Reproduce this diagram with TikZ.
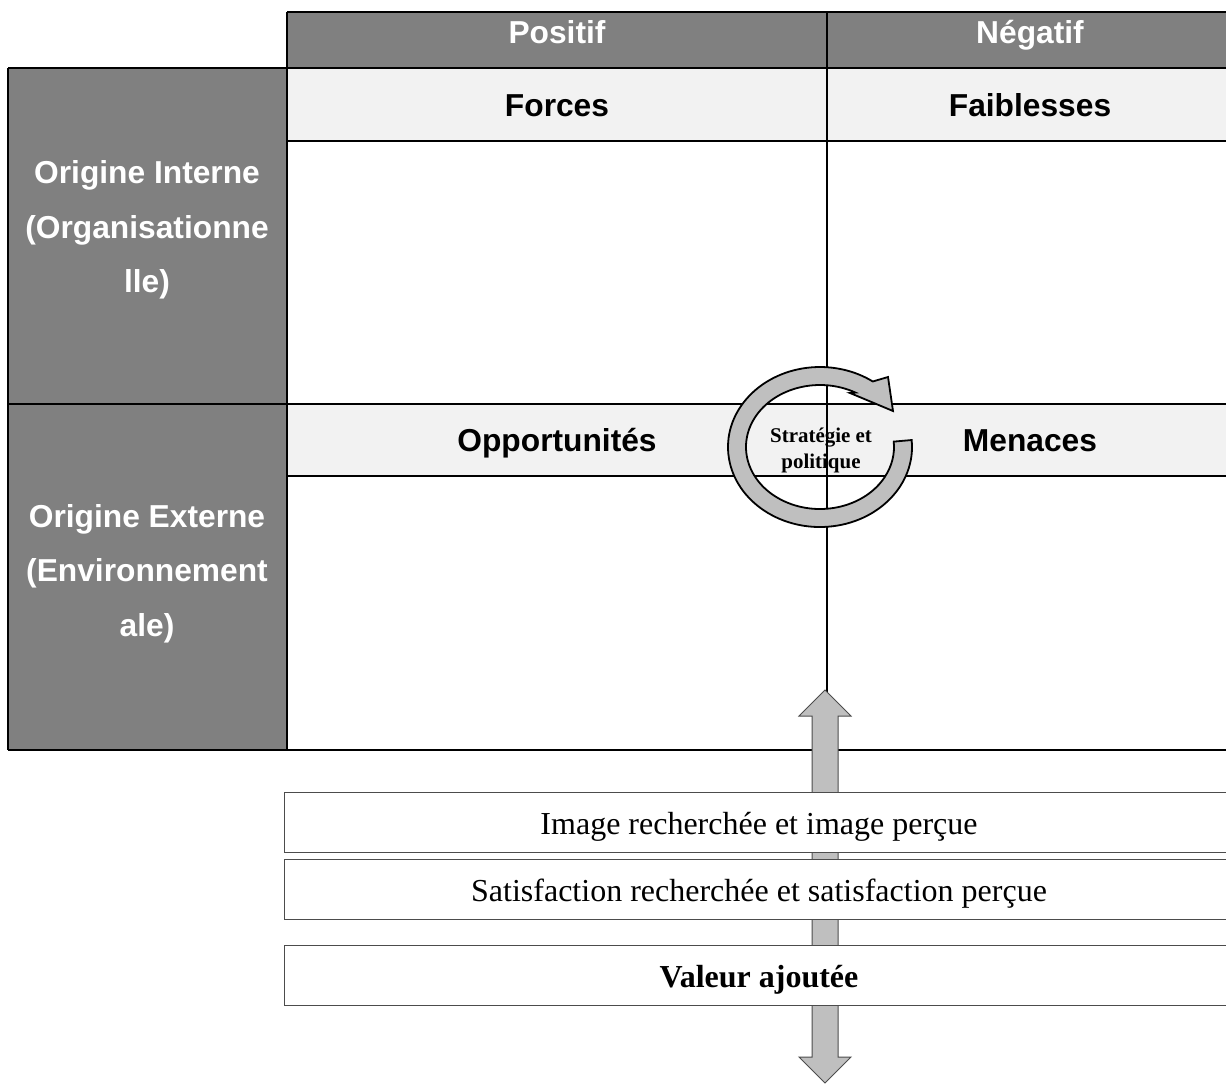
\documentclass[tikz,border=0pt]{standalone}
\usepackage{fontspec}
\setmainfont{Liberation Serif}
\setsansfont{Liberation Sans}
\usetikzlibrary{calc}
\newlength\upx
\setlength\upx{0.75pt}
\tikzset{
  hdrfill/.style={fill=gray},
  rowfill/.style={fill=gray!10},
  gridln/.style={line width=2\upx,black},
  hdrtxt/.style={font=\sffamily\bfseries\fontsize{23.8}{28}\selectfont,text=white,anchor=base},
  rowtxt/.style={font=\sffamily\bfseries\fontsize{23.8}{28}\selectfont,anchor=base},
  origtxt/.style={font=\sffamily\bfseries\fontsize{23.8}{41}\selectfont,text=white,align=center},
  ringarr/.style={fill=gray!50,draw=black,line width=1.8\upx,line join=miter},
  ringtxt/.style={font=\bfseries\fontsize{15.7}{19.5}\selectfont,align=center},
  dblarr/.style={fill=gray!50,draw=black!70,line width=1\upx},
  valbox/.style={draw=black!70,fill=white,line width=1\upx,minimum width=949\upx,minimum height=60\upx,
    font=\fontsize{24}{28}\selectfont,inner sep=0pt,text height=18.75pt,text depth=0pt}
}
\begin{document}
\begin{tikzpicture}[x=0.75pt,y=-0.75pt]
  \clip (0,0) rectangle (1226,1083);
  \fill[hdrfill] (287,12) rectangle (1234,68);
  \fill[hdrfill] (8,68) rectangle (287,750);
  \fill[rowfill] (287,68) rectangle (1234,141);
  \fill[rowfill] (287,404) rectangle (1234,476);

  \draw[gridln] (287,12) -- (1234,12);
  \draw[gridln] (8,68) -- (1234,68);
  \draw[gridln] (287,141) -- (1234,141);
  \draw[gridln] (8,404) -- (1234,404);
  \draw[gridln] (287,476) -- (1234,476);
  \draw[gridln] (8,750) -- (1234,750);
  \draw[gridln] (8,68) -- (8,750);
  \draw[gridln] (287,12) -- (287,750);
  \draw[gridln] (827,12) -- (827,750);

  \draw[dblarr] (812,716) -- (799,716) -- (825,690) -- (851,716) -- (838,716)
    -- (838,1057) -- (851,1057) -- (825,1083) -- (799,1057) -- (812,1057) -- cycle;

  \coordinate (rc) at (820,447);
  \draw[ringarr] ($(rc)+(-5:92 and 80)$) arc[start angle=-5,end angle=305,x radius=92,y radius=80]
    -- (888,377) -- (893,411) -- (850,393)
    -- ($(rc)+(298.6:74 and 62)$) arc[start angle=298.6,end angle=-5,x radius=74,y radius=62] -- cycle;

  \node[valbox] (image) at (759,822) {Image recherchée et image perçue};
  \node[valbox] (satisf) at (759,889) {Satisfaction recherchée et satisfaction perçue};
  \node[valbox,font=\bfseries\fontsize{24}{28}\selectfont] (valeur) at (759,975) {Valeur ajoutée};

  \node[hdrtxt] (pos) at (557,43.6) {Positif};
  \node[hdrtxt] (neg) at (1030,43.6) {Négatif};
  \node[rowtxt] (forces) at (557,116.4) {Forces};
  \node[rowtxt] (faibl) at (1030,116.4) {Faiblesses};
  \node[rowtxt] (opp) at (557,451.3) {Opportunités};
  \node[rowtxt] (menaces) at (1030,451.3) {Menaces};
  \node[origtxt] (interne) at (147,230) {Origine Interne\\(Organisationne\\lle)};
  \node[origtxt] (externe) at (147,573.5) {Origine Externe\\(Environnement\\ale)};
  \node[ringtxt] (strat) at (821,450.5) {Stratégie et\\politique};
\end{tikzpicture}
\end{document}
